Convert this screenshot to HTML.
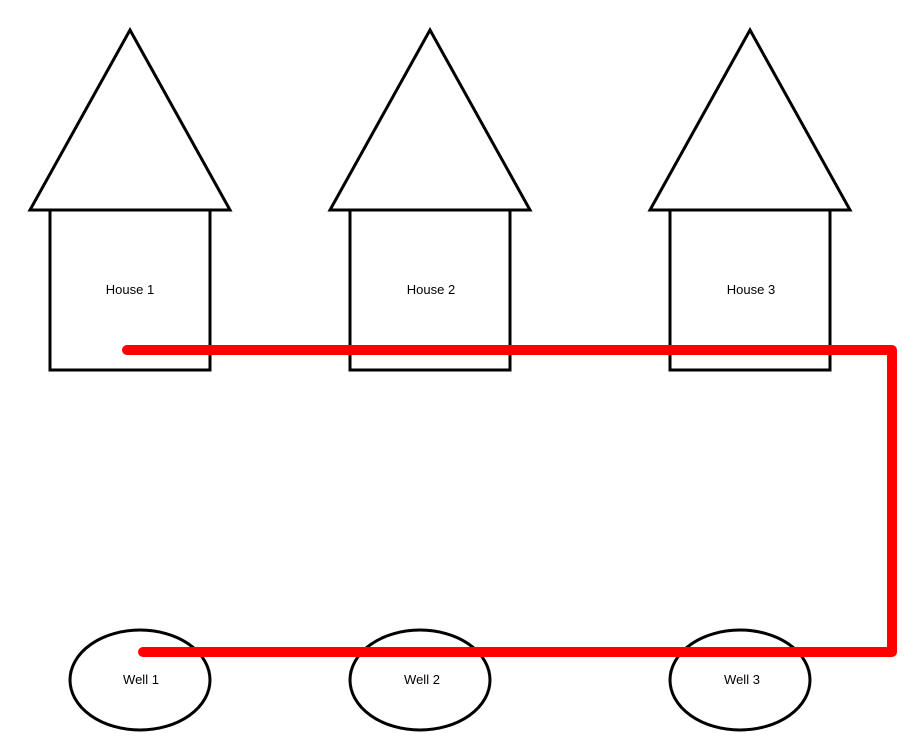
<!DOCTYPE html>
<html><head><style>body{margin:0;background:#fff}</style></head><body>
<svg width="923" height="748" xmlns="http://www.w3.org/2000/svg" font-family="Liberation Sans, sans-serif" font-size="13">
<rect width="923" height="748" fill="#fff"/>
<g fill="none" stroke="#000" stroke-width="3">
<polygon points="130,30 30,210 230,210"/><rect x="50" y="210" width="160" height="160"/>
<polygon points="430,30 330,210 530,210"/><rect x="350" y="210" width="160" height="160"/>
<polygon points="750,30 650,210 850,210"/><rect x="670" y="210" width="160" height="160"/>
<ellipse cx="140" cy="680" rx="70" ry="50"/>
<ellipse cx="420" cy="680" rx="70" ry="50"/>
<ellipse cx="740" cy="680" rx="70" ry="50"/>
</g>
<g text-anchor="middle" fill="#000">
<text x="130" y="294">House 1</text><text x="431" y="294">House 2</text><text x="751" y="294">House 3</text>
<text x="141" y="684">Well 1</text><text x="422" y="684">Well 2</text><text x="742" y="684">Well 3</text>
</g>
<polyline points="127,350 892,350 892,652 143,652" fill="none" stroke="#f00" stroke-width="10" stroke-linecap="round" stroke-linejoin="round"/>
</svg>
</body></html>
